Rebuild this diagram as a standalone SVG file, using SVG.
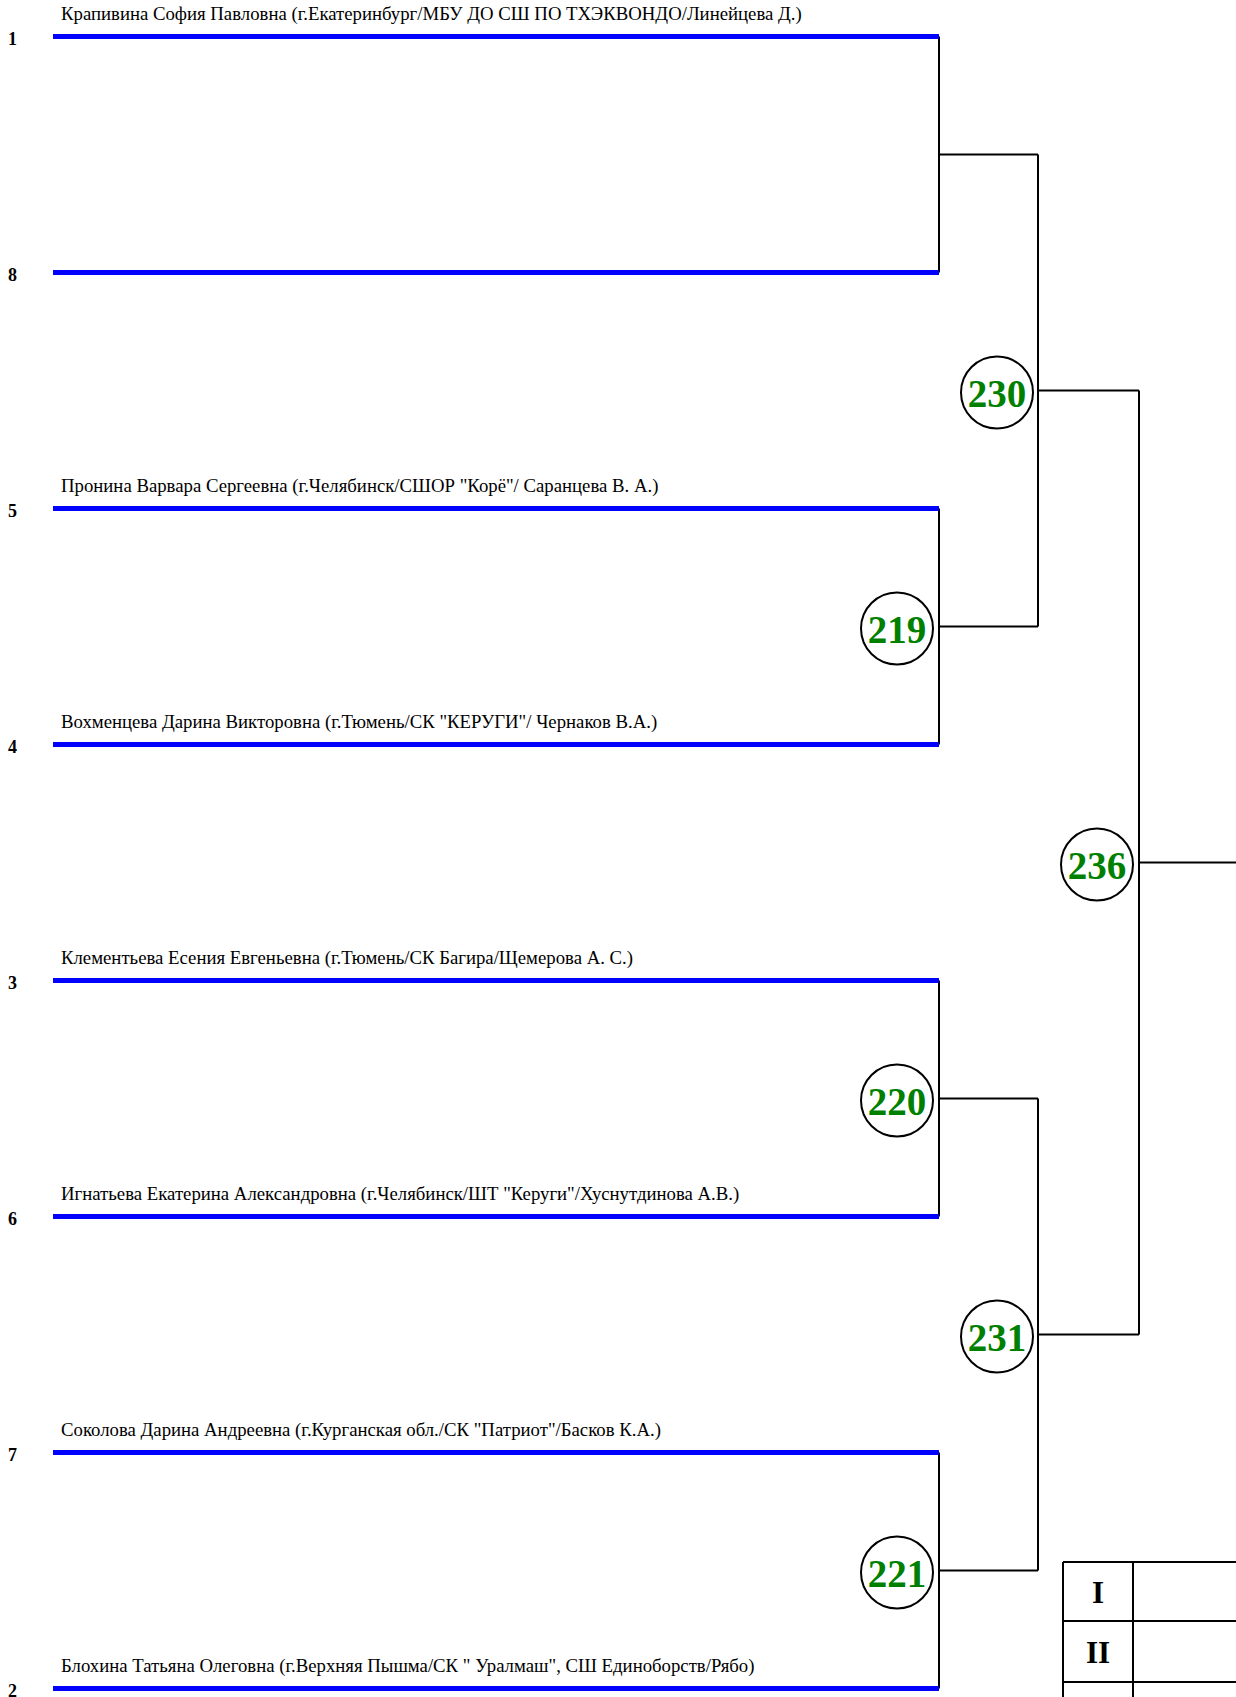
<svg xmlns="http://www.w3.org/2000/svg" width="1236" height="1697" viewBox="0 0 1236 1697">
<style>
.bl{stroke:#0000ff;stroke-width:5;fill:none}
.ln{stroke:#000;stroke-width:2;fill:none}
.lbl{font-family:"Liberation Serif","Times New Roman",serif;font-size:18.75px;fill:#000}
.num{font-family:"Liberation Serif","Times New Roman",serif;font-size:18px;font-weight:bold;fill:#000}
.cc{fill:#fff;stroke:#000;stroke-width:2}
.ct{font-family:"Liberation Serif","Times New Roman",serif;font-size:39px;font-weight:bold;fill:#008000;text-anchor:middle}
.rm{font-family:"Liberation Serif","Times New Roman",serif;font-size:31px;font-weight:bold;fill:#000;text-anchor:middle}
</style>
<rect width="1236" height="1697" fill="#fff"/>
<g id="connectors">
<path class="ln" d="M939,36.5V272.5M939,508.5V744.5M939,980.5V1216.5M939,1452.5V1688.5"/>
<path class="ln" d="M939,154.5H1038M939,626.5H1038M939,1098.5H1038M939,1570.5H1038"/>
<path class="ln" d="M1038,154.5V626.5M1038,1098.5V1570.5"/>
<path class="ln" d="M1038,390.5H1139M1038,1334.5H1139M1139,390.5V1334.5M1139,862.5H1236"/>
</g>
<g id="p1"><path class="bl" d="M53,36.5H939"/><text class="num" x="8" y="45">1</text><text class="lbl" x="61" y="20">Крапивина София Павловна (г.Екатеринбург/МБУ ДО СШ ПО ТХЭКВОНДО/Линейцева Д.)</text></g>
<g id="p8"><path class="bl" d="M53,272.5H939"/><text class="num" x="8" y="281">8</text></g>
<g id="p5"><path class="bl" d="M53,508.5H939"/><text class="num" x="8" y="517">5</text><text class="lbl" x="61" y="492">Пронина Варвара Сергеевна (г.Челябинск/СШОР "Корё"/ Саранцева В. А.)</text></g>
<g id="p4"><path class="bl" d="M53,744.5H939"/><text class="num" x="8" y="753">4</text><text class="lbl" x="61" y="728">Вохменцева Дарина Викторовна (г.Тюмень/СК "КЕРУГИ"/ Чернаков В.А.)</text></g>
<g id="p3"><path class="bl" d="M53,980.5H939"/><text class="num" x="8" y="989">3</text><text class="lbl" x="61" y="964">Клементьева Есения Евгеньевна (г.Тюмень/СК Багира/Щемерова А. С.)</text></g>
<g id="p6"><path class="bl" d="M53,1216.5H939"/><text class="num" x="8" y="1225">6</text><text class="lbl" x="61" y="1200">Игнатьева Екатерина Александровна (г.Челябинск/ШТ "Керуги"/Хуснутдинова А.В.)</text></g>
<g id="p7"><path class="bl" d="M53,1452.5H939"/><text class="num" x="8" y="1461">7</text><text class="lbl" x="61" y="1436">Соколова Дарина Андреевна (г.Курганская обл./СК "Патриот"/Басков К.А.)</text></g>
<g id="p2"><path class="bl" d="M53,1688.5H939"/><text class="num" x="8" y="1697">2</text><text class="lbl" x="61" y="1672">Блохина Татьяна Олеговна (г.Верхняя Пышма/СК " Уралмаш", СШ Единоборств/Рябо)</text></g>
<g id="m219"><circle class="cc" cx="897" cy="628.5" r="36"/><text class="ct" x="897" y="643">219</text></g>
<g id="m220"><circle class="cc" cx="897" cy="1100.5" r="36"/><text class="ct" x="897" y="1115">220</text></g>
<g id="m221"><circle class="cc" cx="897" cy="1572.5" r="36"/><text class="ct" x="897" y="1587">221</text></g>
<g id="m230"><circle class="cc" cx="997" cy="392.5" r="36"/><text class="ct" x="997" y="407">230</text></g>
<g id="m231"><circle class="cc" cx="997" cy="1336.5" r="36"/><text class="ct" x="997" y="1351">231</text></g>
<g id="m236"><circle class="cc" cx="1097" cy="864.5" r="36"/><text class="ct" x="1097" y="879">236</text></g>
<g id="places">
<path class="ln" d="M1063,1562H1236M1063,1621H1236M1063,1682H1236M1063,1562V1697M1133,1562V1697"/>
<text class="rm" x="1098" y="1603">I</text>
<text class="rm" x="1098" y="1663">II</text>
</g>
</svg>
